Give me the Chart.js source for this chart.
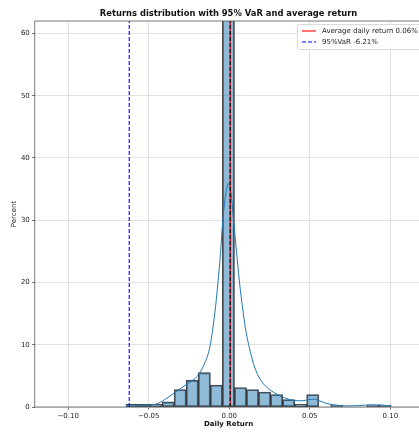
<!DOCTYPE html>
<html><head><meta charset="utf-8">
<script src="https://cdn.jsdelivr.net/npm/chart.js@4.4.1/dist/chart.umd.min.js"></script>
<style>html,body{margin:0;padding:0;background:#fff;overflow:hidden;width:419px;height:432px}canvas{display:block}</style>
</head><body>
<canvas id="c" width="424" height="432"></canvas>
<script>
// ---- data ----
const binCenters = [-0.06036,-0.05288,-0.0454,-0.03792,-0.03044,-0.02296,-0.01548,-0.008,-0.00052,0.00696,0.01444,0.02192,0.0294,0.03688,0.04436,0.05184,0.05932,0.0668,0.07428,0.08176,0.08924,0.09672];
const binPercents = [0.4,0.4,0.4,0.8,2.8,4.3,5.5,3.5,67.2,3.1,2.8,2.4,2.0,1.2,0.4,2.0,0,0.3,0,0,0.3,0.3];
const kdeX = [-0.0641,-0.056,-0.050,-0.045,-0.040,-0.035,-0.030,-0.025,-0.020,-0.016,-0.012,-0.009,-0.007,-0.0055,-0.004,-0.002,-0.0006,0.001,0.0027,0.0045,0.0062,0.0087,0.0105,0.0125,0.015,0.018,0.021,0.025,0.030,0.035,0.040,0.045,0.050,0.053,0.056,0.060,0.065,0.072,0.080,0.088,0.095,0.1004];
const kdeY = [0.15,0.2,0.3,0.5,1.2,2.1,3.0,3.9,4.9,6.6,9.7,15.0,20.0,24.5,30.0,34.5,35.9,34.5,30.0,25.0,20.4,15.1,12.0,9.5,7.0,5.0,3.8,2.8,2.0,1.4,1.05,1.0,1.2,1.25,1.0,0.6,0.35,0.18,0.22,0.35,0.3,0.1];
const avgReturn = 0.0006;
const var95 = -0.0621;
const xTicks = [-0.10,-0.05,0.00,0.05,0.10];
const yTicks = [0,10,20,30,40,50,60];
const xRange = [-0.1208, 0.12];
const yRange = [0, 62];
const legendLabels = ['Average daily return 0.06%', '95%VaR -6.21%'];
const titleText = 'Returns distribution with 95% VaR and average return';
const xLabel = 'Daily Return';
const yLabel = 'Percent';

const FONT = "'DejaVu Sans', sans-serif";

const deco = {
  id: 'deco',
  afterDatasetsDraw(chart) {
    const {ctx, chartArea: a} = chart;
    ctx.save();
    ctx.strokeStyle = '#555';
    ctx.lineWidth = 0.8;
    ctx.beginPath();
    ctx.moveTo(a.left, a.bottom); ctx.lineTo(a.left, a.top); ctx.lineTo(a.right, a.top);
    ctx.moveTo(a.left, a.bottom); ctx.lineTo(a.right, a.bottom);
    ctx.stroke();
    ctx.restore();
  },
  afterDraw(chart) {
    const {ctx, chartArea: a} = chart;
    ctx.save();
    ctx.fillStyle = '#111';
    ctx.font = "bold 8.4px " + FONT;
    ctx.textAlign = 'center';
    ctx.textBaseline = 'middle';
    ctx.fillText(titleText, (a.left + a.right) / 2, 14);
    const lx = 297, ly = 24, lw = 124, lh = 25;
    ctx.beginPath();
    ctx.roundRect(lx + 0.5, ly + 0.5, lw, lh, 2);
    ctx.fillStyle = 'rgba(255,255,255,0.85)';
    ctx.fill();
    ctx.strokeStyle = '#d0d0d0';
    ctx.lineWidth = 0.8;
    ctx.stroke();
    const rows = [31, 42];
    ctx.lineWidth = 1.1;
    ctx.strokeStyle = 'red';
    ctx.beginPath(); ctx.moveTo(302, rows[0]); ctx.lineTo(316, rows[0]); ctx.stroke();
    ctx.strokeStyle = 'blue';
    ctx.setLineDash([4, 2]);
    ctx.beginPath(); ctx.moveTo(302, rows[1]); ctx.lineTo(316, rows[1]); ctx.stroke();
    ctx.setLineDash([]);
    ctx.fillStyle = '#222';
    ctx.font = "7px " + FONT;
    ctx.textAlign = 'left';
    ctx.fillText(legendLabels[0], 322, rows[0]);
    ctx.fillText(legendLabels[1], 322, rows[1]);
    ctx.restore();
  }
};

const vline = (v, color, dash, order) => ({
  type: 'line',
  data: [{x: v, y: yRange[0]}, {x: v, y: yRange[1]}],
  borderColor: color,
  borderWidth: 1.1,
  borderDash: dash,
  pointRadius: 0,
  order: order
});

new Chart(document.getElementById('c'), {
  type: 'bar',
  data: {
    datasets: [
      {
        type: 'bar',
        data: binCenters.map((x, i) => ({x: x, y: binPercents[i]})),
        backgroundColor: 'rgba(31,119,180,0.5)',
        borderColor: 'rgba(40,40,40,0.85)',
        borderWidth: 1,
        borderSkipped: false,
        barPercentage: 1,
        categoryPercentage: 1,
        grouped: false,
        inflateAmount: 0.4,
        order: 5
      },
      {
        type: 'line',
        data: kdeX.map((x, i) => ({x: x, y: kdeY[i]})),
        borderColor: '#1f77b4',
        borderWidth: 1,
        pointRadius: 0,
        cubicInterpolationMode: 'monotone',
        order: 4
      },
      vline(avgReturn, 'red', [], 3),
      vline(avgReturn, '#000', [4, 2], 2),
      vline(var95, 'blue', [4, 2], 1)
    ]
  },
  options: {
    responsive: false,
    animation: false,
    devicePixelRatio: 1,
    layout: {padding: {top: 21, right: 1.5, left: 0, bottom: 0}},
    plugins: {legend: {display: false}, tooltip: {enabled: false}, title: {display: false}},
    scales: {
      x: {
        type: 'linear',
        min: xRange[0], max: xRange[1],
        offset: false,
        grid: {color: '#dadada', lineWidth: 0.8, tickLength: 2.5, tickColor: '#444', offset: false},
        border: {display: false},
        afterBuildTicks: s => { s.ticks = xTicks.map(v => ({value: v})); },
        afterFit: s => { s.height = 25; },
        ticks: {
          padding: 2, color: '#222', font: {family: FONT, size: 7}, maxRotation: 0,
          callback: v => (v < -1e-9 ? '\u2212' : '') + Math.abs(v).toFixed(2)
        },
        title: {display: true, text: xLabel, color: '#111', font: {family: FONT, size: 7, weight: 'bold'}, padding: {top: 0, bottom: 3.8}}
      },
      y: {
        type: 'linear',
        min: yRange[0], max: yRange[1],
        grid: {color: '#dadada', lineWidth: 0.8, tickLength: 2.5, tickColor: '#444'},
        border: {display: false},
        afterBuildTicks: s => { s.ticks = yTicks.map(v => ({value: v})); },
        afterFit: s => { s.width = 34.7; },
        ticks: {padding: 2.4, color: '#222', font: {family: FONT, size: 7}, callback: v => String(v)},
        title: {display: true, text: yLabel, color: '#222', font: {family: FONT, size: 7}, padding: {top: 9.8, bottom: 0}}
      }
    }
  },
  plugins: [deco]
});
</script>
</body></html>
